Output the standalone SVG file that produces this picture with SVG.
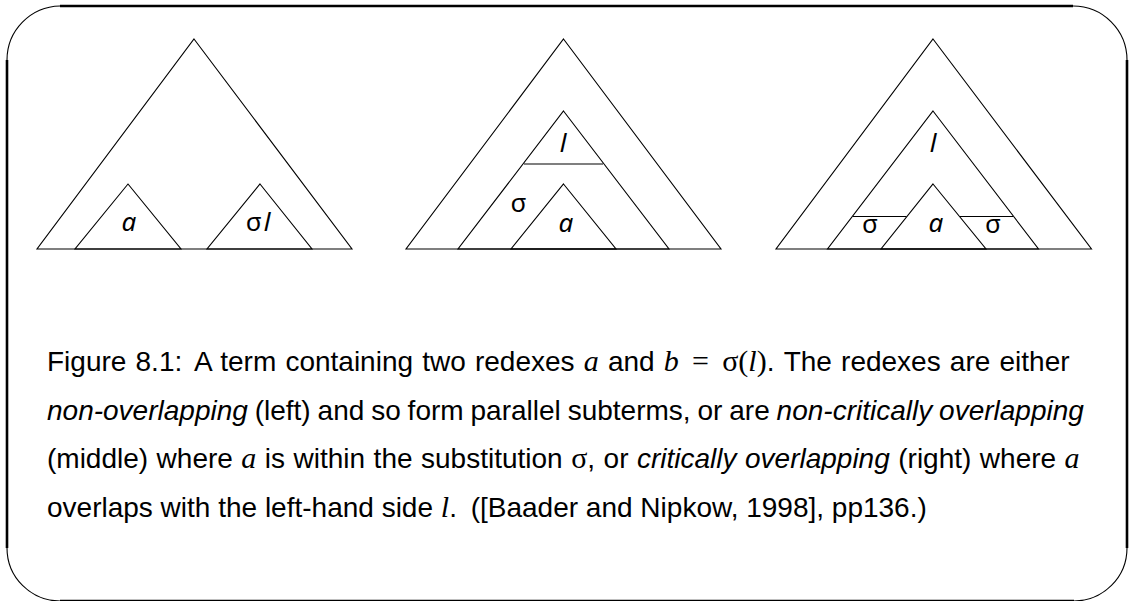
<svg xmlns="http://www.w3.org/2000/svg" width="1129" height="601" viewBox="0 0 1129 601">
<style>
.fr{fill:none;stroke:#000;stroke-width:2.6}
.arc{fill:none;stroke:#000;stroke-width:1.1}
.tri{fill:none;stroke:#000;stroke-width:1.1;stroke-linejoin:miter}
.ln{stroke:#000;stroke-width:1.1}
.lbl{font-family:"Noto Sans","DejaVu Sans",sans-serif;font-size:26px;fill:#000;text-anchor:middle}
.it{font-style:italic}
.cap{font-family:"Liberation Sans",Arial,sans-serif;font-size:28px;fill:#000}
.em{font-style:italic}
.mi{font-family:"Liberation Serif","Times New Roman",serif;font-style:italic;font-size:30px}
.mr{font-family:"Liberation Serif","Times New Roman",serif;font-size:30px}
</style>
<rect width="1129" height="601" fill="#fff"/>
<g id="frame">
<line class="fr" x1="60" y1="6" x2="1073" y2="6"/>
<line class="fr" x1="7" y1="60" x2="7" y2="548"/>
<line class="fr" x1="1127" y1="60" x2="1127" y2="548"/>
<line class="fr" x1="60" y1="601" x2="1074" y2="601"/>
<path class="arc" d="M7,60 A54,54 0 0 1 60,6"/>
<path class="arc" d="M1073,6 A54,54 0 0 1 1127,60"/>
<path class="arc" d="M7,548 A53,53 0 0 0 60,601"/>
<path class="arc" d="M1127,548 A53,53 0 0 1 1074,601"/>
</g>
<g id="nonoverlapping">
<polygon class="tri" points="194,39 352,249 37,249"/>
<polygon class="tri" points="128,184 181,249 75,249"/>
<polygon class="tri" points="260,184 312,249 207,249"/>
<text class="lbl it" x="129" y="231">a</text>
<text class="lbl" x="258" y="231">σ<tspan class="it" dx="2">l</tspan></text>
</g>
<g id="noncritical">
<polygon class="tri" points="563.5,39 721,249 406,249"/>
<polygon class="tri" points="563.5,111 669,249 458,249"/>
<polygon class="tri" points="563.5,184 616,249 511,249"/>
<line class="ln" x1="524" y1="164" x2="603" y2="164"/>
<text class="lbl it" x="563" y="152">l</text>
<text class="lbl" x="518.5" y="212">σ</text>
<text class="lbl it" x="566" y="232">a</text>
</g>
<g id="critical">
<polygon class="tri" points="933,39 1091.5,249 776,249"/>
<polygon class="tri" points="933,111 1038.5,249 827.5,249"/>
<polygon class="tri" points="933,184 986,249 881,249"/>
<line class="ln" x1="853" y1="216.5" x2="906.5" y2="216.5"/>
<line class="ln" x1="960" y1="216.5" x2="1013" y2="216.5"/>
<text class="lbl it" x="933" y="152">l</text>
<text class="lbl" x="870" y="233">σ</text>
<text class="lbl it" x="936" y="232">a</text>
<text class="lbl" x="993" y="233">σ</text>
</g>
<g id="caption">
<text class="cap" x="47" y="371" word-spacing="1.4">Figure 8.1: <tspan dx="4">A</tspan> term containing two redexes <tspan class="mi">a</tspan> and <tspan class="mi">b</tspan> <tspan class="mr" dx="4">=</tspan> <tspan class="mr" dx="4">σ(</tspan><tspan class="mi">l</tspan><tspan class="mr">)</tspan>. The redexes are either</text>
<text class="cap" x="47" y="419.5" word-spacing="-0.9"><tspan class="em">non-overlapping</tspan> (left) and so form parallel subterms, or are <tspan class="em">non-critically overlapping</tspan></text>
<text class="cap" x="47" y="468" word-spacing="0.7">(middle) where <tspan class="mi">a</tspan> is within the substitution <tspan class="mr">σ</tspan>, or <tspan class="em">critically overlapping</tspan> (right) where <tspan class="mi">a</tspan></text>
<text class="cap" x="47" y="516.5">overlaps with the left-hand side <tspan class="mi">l</tspan>. <tspan dx="6">([Baader</tspan> and Nipkow, 1998], pp136.)</text>
</g>
</svg>
